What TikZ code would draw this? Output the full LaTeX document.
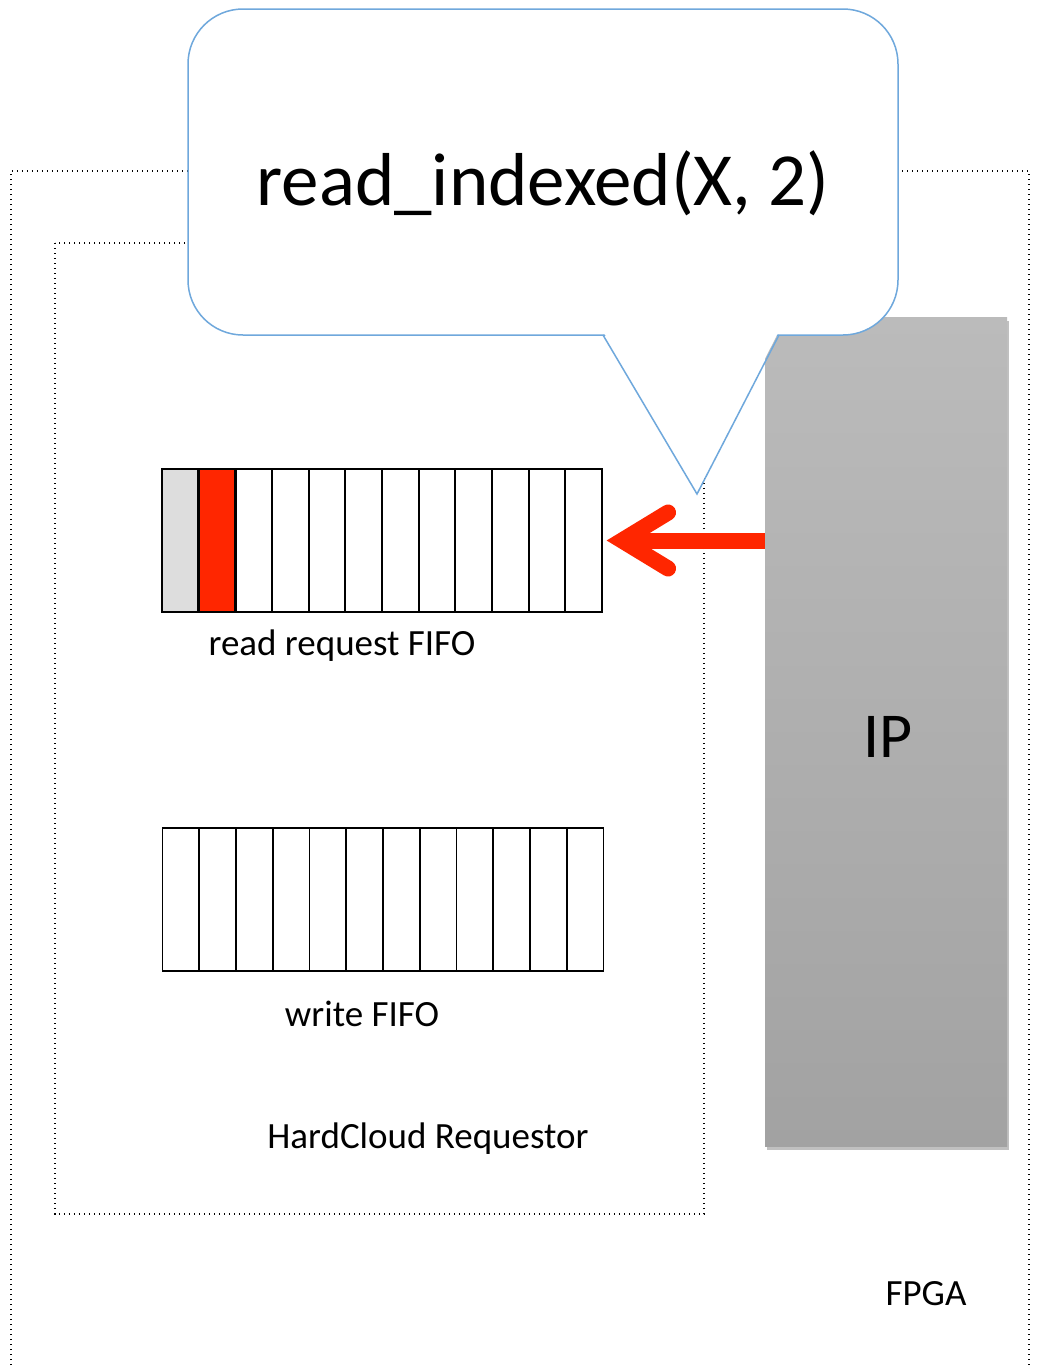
\documentclass[tikz,border=0pt]{standalone}
\usepackage{fontspec}
\setmainfont{Carlito}
\usetikzlibrary{shadows,calc}
\definecolor{calloutblue}{HTML}{6FA8DC}
\definecolor{arrowred}{HTML}{FF2600}
\definecolor{iptop}{HTML}{BBBBBB}
\definecolor{ipbot}{HTML}{A2A2A2}
\definecolor{cellgrey}{HTML}{DDDDDD}
\begin{document}
\begin{tikzpicture}[x=1pt,y=-1pt,
  dotbox/.style={draw=black, line width=1.4pt, dash pattern=on 1.4pt off 3.6pt},
  cell/.style={draw=black, line width=1.9pt, minimum width=36.67pt, minimum height=143pt, inner sep=0pt, outer sep=0pt, fill=white},
  lbl/.style={font=\fontsize{37}{44}\selectfont, inner sep=0pt, anchor=base},
  ipbox/.style={minimum width=242pt, minimum height=829pt, inner sep=0pt, top color=iptop, bottom color=ipbot, draw=none,
    drop shadow={shadow xshift=2pt, shadow yshift=-4pt, opacity=0.35, fill=black!70}},
  callbox/.style={draw=calloutblue, fill=white, line width=1.5pt, rounded corners=55pt}]
\useasboundingbox (0,0) rectangle (1040,1366);
\fill[white] (0,0) rectangle (1040,1366);
% FPGA box
\draw[dotbox] (11,1370) -- (11,171) -- (1029,171) -- (1029,1370);
% HardCloud box
\draw[dotbox] (55,243) rectangle (704,1214);
% IP block
\node[ipbox] (ip) at (886,731.5) {};
\node[font=\fontsize{64}{76}\selectfont, inner sep=0pt, anchor=base] (iplbl) at (888,757) {IP};
% callout
\draw[callbox] (188,9) rectangle (898,335);
\fill[white] (604,333) -- (697,492) -- (778,333) -- cycle;
\draw[calloutblue, line width=1.5pt, line join=miter] (603,335) -- (697,494) -- (779,335);
\node[font=\fontsize{75}{88}\selectfont, inner sep=0pt, anchor=base] (calltxt) at (543,205) {read\_indexed(X, 2)};
% read request FIFO
\foreach \i in {1,...,12} {
  \node[cell] (r\i) at ({162+36.67*(\i-0.5)},540.5) {};
}
\node[cell, fill=cellgrey] at (r1) {};
\node[cell, fill=arrowred, line width=2.6pt] at (r2) {};
% write FIFO
\foreach \i in {1,...,12} {
  \node[cell] (w\i) at ({162.5+36.75*(\i-0.5)},899.5) {};
}
% labels
\node[lbl] (lr) at (342,655) {read request FIFO};
\node[lbl] (lw) at (362,1026) {write FIFO};
\node[lbl] (lh) at (428,1148) {HardCloud Requestor};
\node[lbl] (lf) at (926,1305) {FPGA};
% arrow from IP to read FIFO
\coordinate (vtx) at ($(r12.east)+(20,0)$);
\draw[arrowred, line width=16pt] (ip.west |- r12.east) -- (vtx);
\draw[arrowred, line width=16pt, line cap=round, line join=miter]
  ($(r12.east)+(66,-28)$) -- (vtx) -- ($(r12.east)+(66,28)$);
\end{tikzpicture}
\end{document}
